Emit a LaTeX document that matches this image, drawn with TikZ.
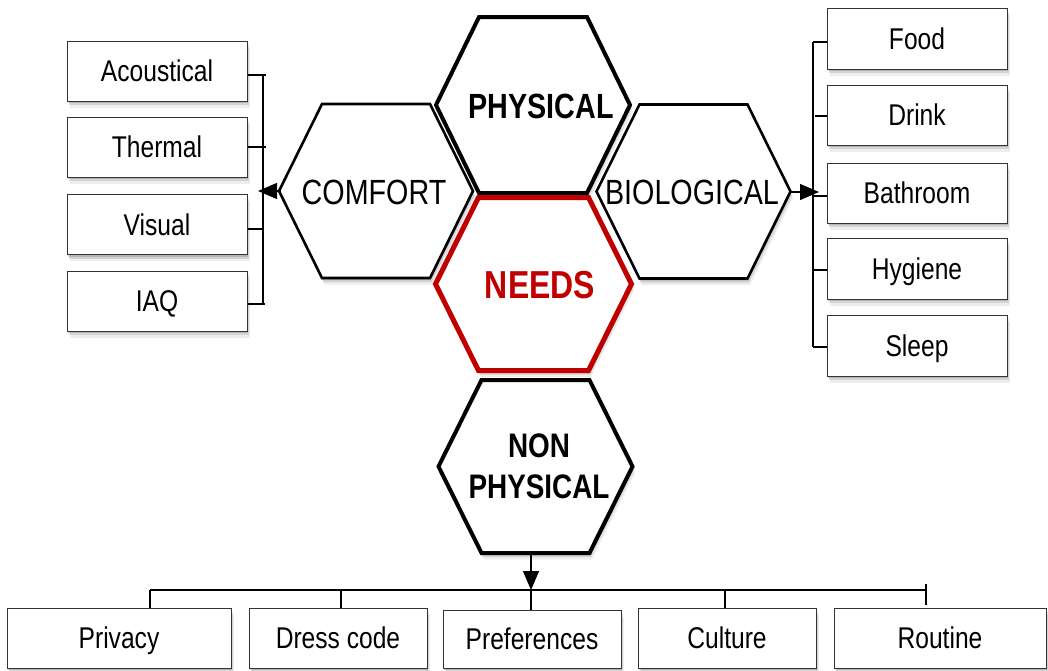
\documentclass[tikz,border=0pt]{standalone}
\usepackage{fontspec}
\setmainfont{Liberation Sans}[FakeStretch=0.82]
\usetikzlibrary{arrows.meta,shadows}
\definecolor{needred}{HTML}{C00000}
\tikzset{
  softshadow/.style={
    general shadow={shadow xshift=0.5pt,shadow yshift=-2pt,fill=black,opacity=.14},
    general shadow={shadow xshift=1.5pt,shadow yshift=-4pt,fill=black,opacity=.11},
    general shadow={shadow xshift=2.5pt,shadow yshift=-6.5pt,fill=black,opacity=.07}},
  box/.style={draw=black!80, line width=1pt, fill=white, minimum height=60pt,
    text height=21.5pt, text depth=0pt, inner sep=0pt,
    font=\fontsize{30}{36}\selectfont, softshadow},
  hexthin/.style={draw=black, line width=2.6pt, fill=white, softshadow},
  hexthick/.style={draw=black, line width=4pt, fill=white, softshadow},
  hexred/.style={draw=needred, line width=5pt, fill=white, softshadow},
  hextext/.style={inner sep=0pt, text height=25pt, text depth=0pt,
    font=\fontsize{35}{42}\selectfont},
  conn/.style={draw=black, line width=1.3pt},
  arr/.style={conn, -{Triangle[length=19pt,width=16pt]}},
}
\begin{document}
\begin{tikzpicture}[x=1pt,y=-1pt]
\useasboundingbox (0,0) rectangle (1048,670);

% side hexagons
\draw[hexthin, shift={(376,191)}] (-97,0) -- (-54,-87) -- (54,-87) -- (97,0) -- (54,87) -- (-54,87) -- cycle;
\draw[hexthin, shift={(693.5,191.5)}] (-97,0) -- (-54,-87) -- (54,-87) -- (97,0) -- (54,87) -- (-54,87) -- cycle;
% central hexagons
\draw[hexthick, shift={(533,105)}] (-97,0) -- (-54,-88) -- (54,-88) -- (97,0) -- (54,88) -- (-54,88) -- cycle;
\draw[hexthick, shift={(535.5,466.5)}] (-97,0) -- (-54,-86.5) -- (54,-86.5) -- (97,0) -- (54,86.5) -- (-54,86.5) -- cycle;
\draw[hexred, shift={(533.5,284)}] (-98,0) -- (-55,-86.5) -- (55,-86.5) -- (98,0) -- (55,86.5) -- (-55,86.5) -- cycle;

% hexagon labels
\node[hextext] (comfort) at (374,192) {COMFORT};
\node[hextext] (bio) at (692,192) {BIOLOGICAL};
\node[hextext, font=\fontsize{35}{42}\selectfont\bfseries] (phys) at (541,106) {PHYSICAL};
\node[hextext, text height=28pt, text=needred, font=\fontsize{39}{46}\selectfont\bfseries] (needs) at (540,284) {NEEDS};
\node[inner sep=0pt, align=center, font=\fontsize{34}{41}\selectfont\bfseries] (nonphys) at (539,466) {NON\\PHYSICAL};

% hexagon vertices used by connectors
\coordinate (comfortW) at (281,191);
\coordinate (bioE) at (789,192);
\coordinate (nonS) at (531,553);

% left boxes
\node[box, minimum width=180pt] (acou) at (157,71) {Acoustical};
\node[box, minimum width=180pt] (therm) at (157,147) {Thermal};
\node[box, minimum width=180pt] (vis) at (157,224.5) {Visual};
\node[box, minimum width=180pt] (iaq) at (157,301) {IAQ};

% right boxes
\node[box, minimum width=180pt, minimum height=61pt] (food) at (917,38.5) {Food};
\node[box, minimum width=180pt] (drink) at (917,115) {Drink};
\node[box, minimum width=180pt] (bath) at (917,193) {Bathroom};
\node[box, minimum width=180pt, minimum height=61pt] (hyg) at (917,268.5) {Hygiene};
\node[box, minimum width=180pt, minimum height=61pt] (sleep) at (917,345.5) {Sleep};

% bottom boxes
\node[box, minimum width=224pt] (priv) at (119,638) {Privacy};
\node[box, minimum width=178pt] (dress) at (338,638) {Dress code};
\node[box, minimum width=178pt, minimum height=58pt] (pref) at (532,639) {Preferences};
\node[box, minimum width=178pt] (cult) at (727,638) {Culture};
\node[box, minimum width=212pt] (rout) at (940,638) {Routine};

% left bracket
\coordinate (lbT) at (263,75);
\coordinate (lbB) at (263,304);
\draw[conn] (lbT) -- (lbB);
\draw[conn] (acou.east |- lbT) -- ++(18,0);
\draw[conn] (therm.east) -- ++(18,0);
\draw[conn] (vis.east |- 0,229) -- ++(16,0);
\draw[conn] (iaq.east |- lbB) -- ++(17,0);
\draw[arr] (comfortW) -- (258,191);

% right bracket
\coordinate (rbT) at (813,42);
\coordinate (rbB) at (813,347);
\draw[conn] (rbT) -- (rbB);
\draw[conn] (rbT) -- (food.west |- rbT);
\draw[conn] (815,116) -- (drink.west |- 0,116);
\draw[conn] (813,196) -- (bath.west |- 0,196);
\draw[conn] (813,270) -- (hyg.west |- 0,270);
\draw[conn] (rbB) -- (sleep.west |- rbB);
\draw[arr] (bioE) -- (819,192);

% bottom tree
\coordinate (bl) at (150,590);
\coordinate (br) at (926,590);
\draw[conn] (bl) -- (br);
\draw[conn] (bl) -- (priv.north -| bl);
\draw[conn] (341,590) -- (dress.north -| 341,0);
\draw[conn] (531,590) -- (pref.north -| 531,0);
\draw[conn] (725,590) -- (cult.north -| 725,0);
\draw[conn] (926,584) -- (926,605);
\draw[arr] (nonS) -- (531,590);
\end{tikzpicture}
\end{document}
